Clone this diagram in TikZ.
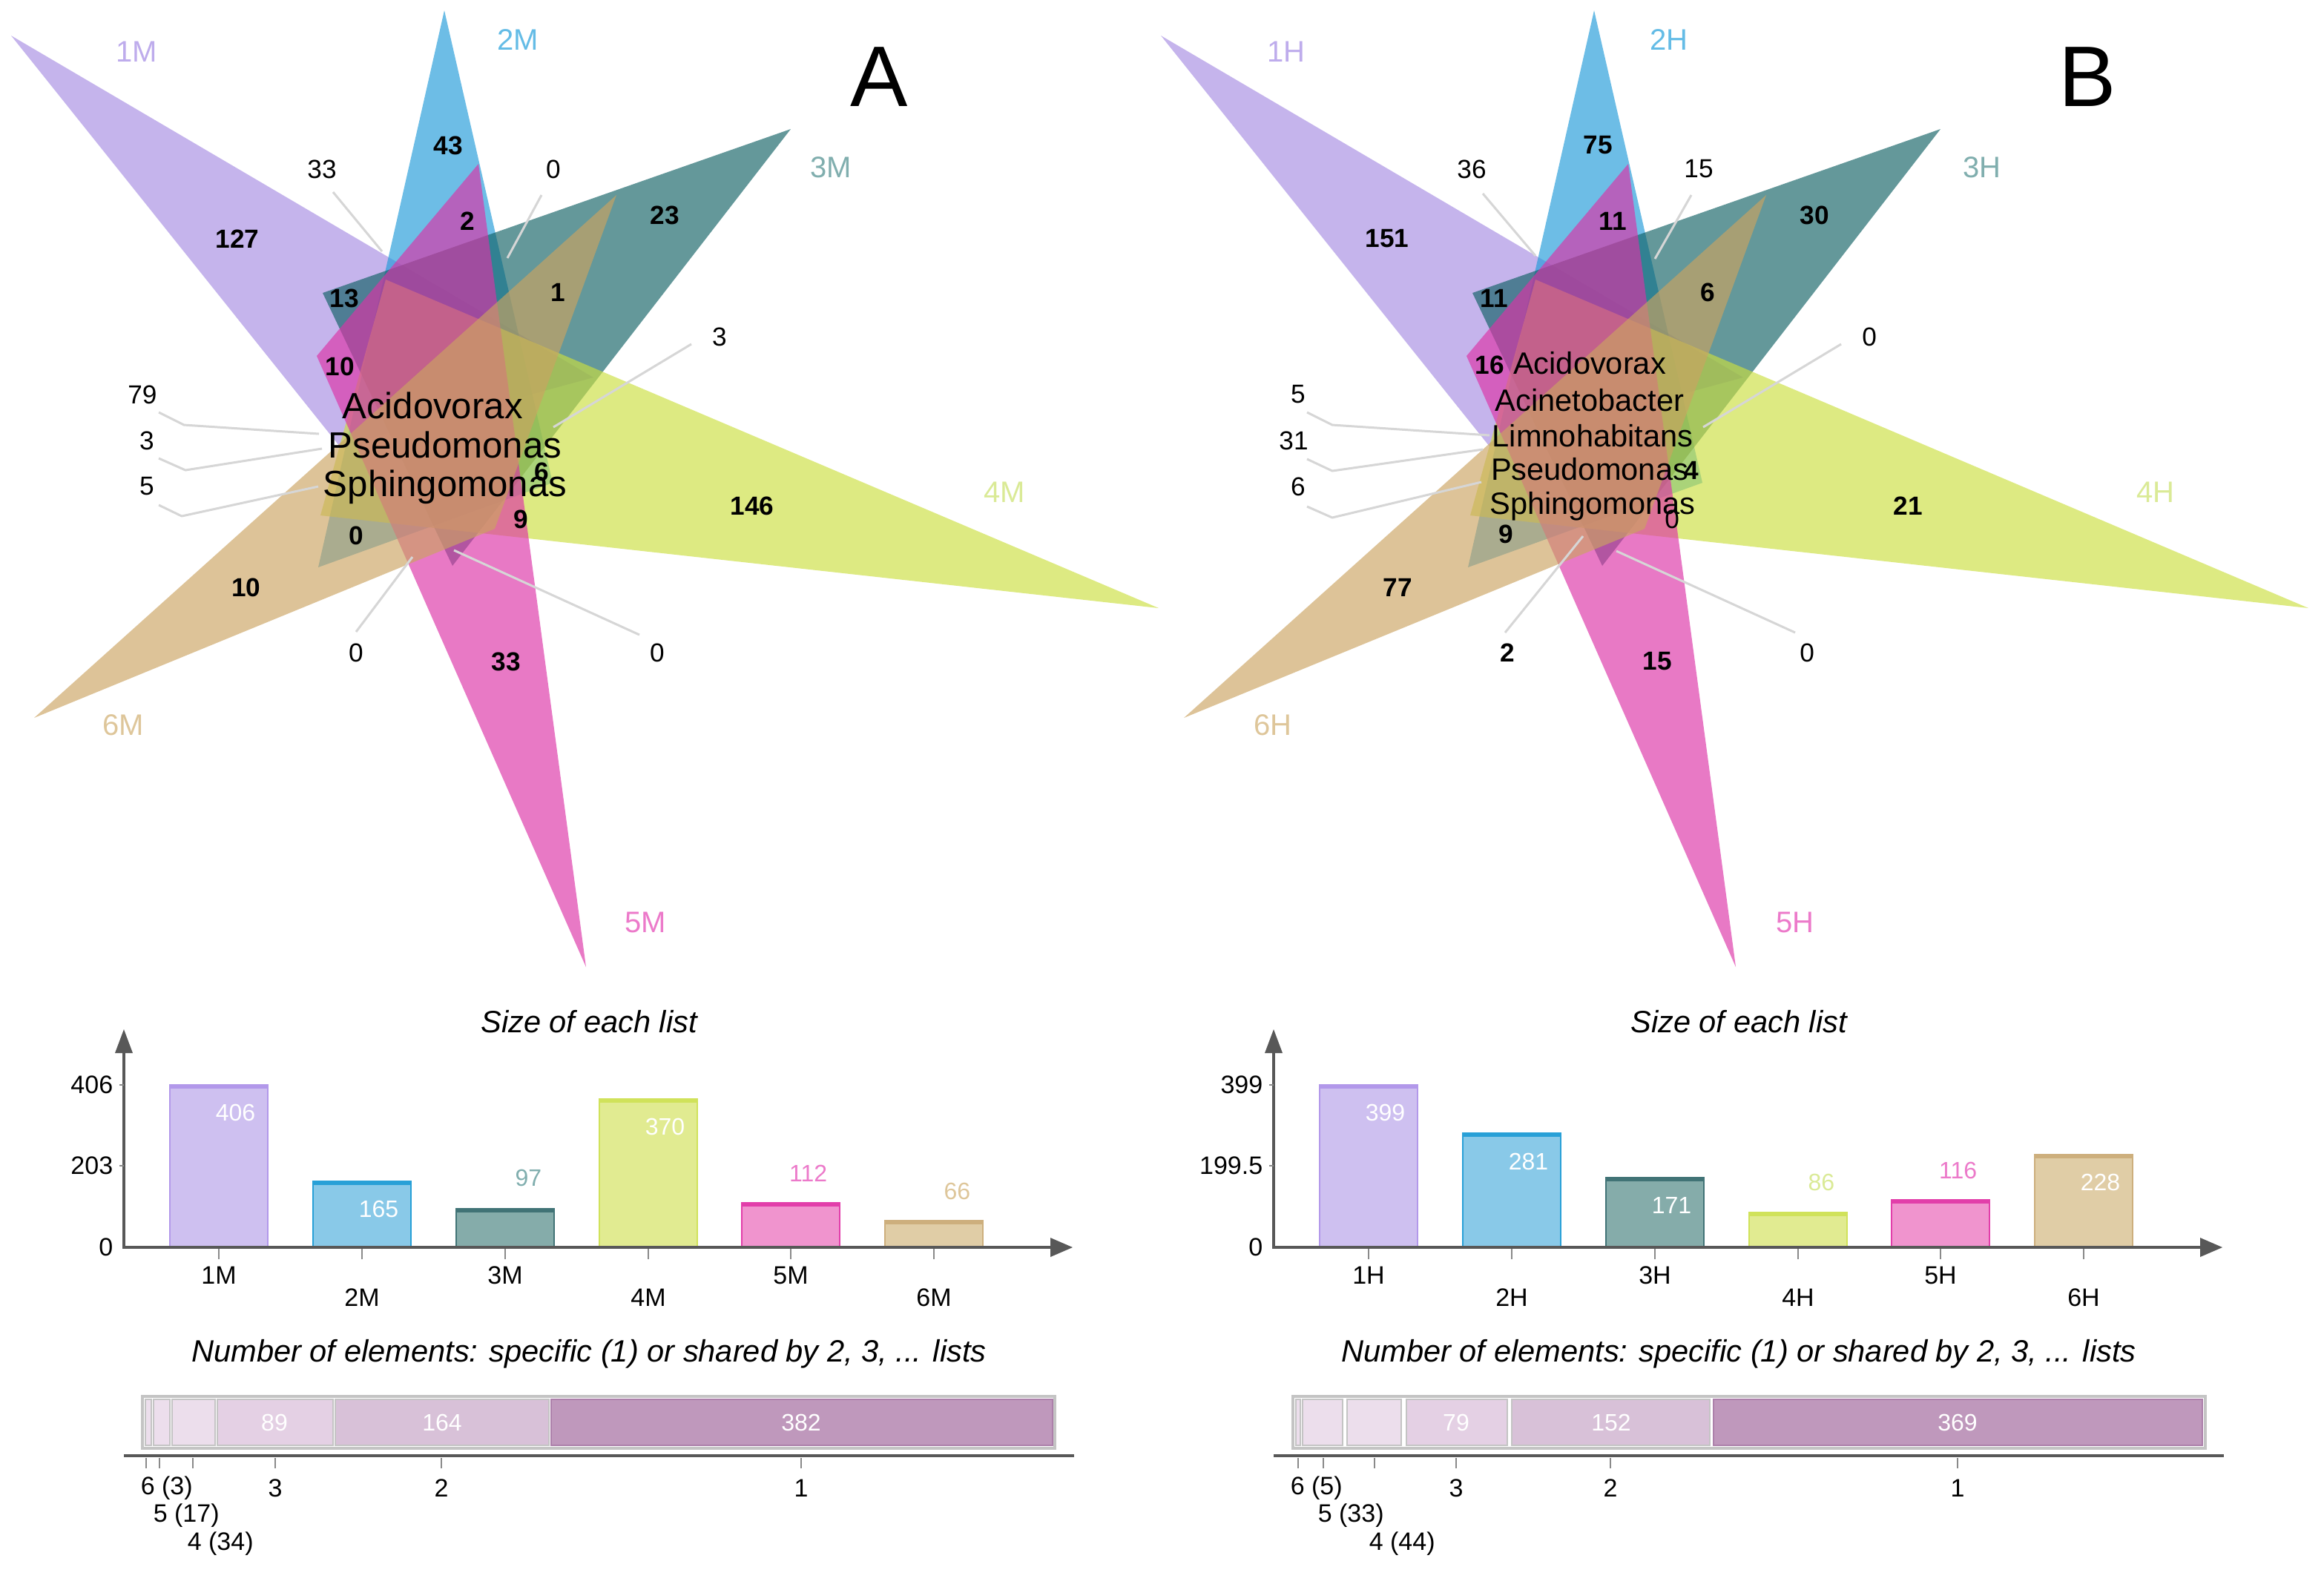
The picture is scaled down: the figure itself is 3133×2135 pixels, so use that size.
\documentclass[tikz,border=0pt]{standalone}
\usepackage{fontspec}
\setmainfont{Liberation Sans}
\definecolor{vA}{RGB}{166,140,226}
\definecolor{vB}{RGB}{32,155,217}
\definecolor{vC}{RGB}{17,97,101}
\definecolor{vD}{RGB}{204,223,63}
\definecolor{vE}{RGB}{221,50,166}
\definecolor{vF}{RGB}{203,164,97}
\definecolor{lA}{RGB}{190,172,236}
\definecolor{lB}{RGB}{100,188,230}
\definecolor{lC}{RGB}{128,174,174}
\definecolor{lD}{RGB}{218,234,150}
\definecolor{lE}{RGB}{236,122,202}
\definecolor{lF}{RGB}{222,198,154}
\definecolor{bfA}{RGB}{206,192,240}
\definecolor{bdA}{RGB}{178,152,234}
\definecolor{bfB}{RGB}{137,201,232}
\definecolor{bdB}{RGB}{40,160,215}
\definecolor{bfC}{RGB}{133,172,170}
\definecolor{bdC}{RGB}{65,115,118}
\definecolor{bfD}{RGB}{225,235,145}
\definecolor{bdD}{RGB}{208,226,90}
\definecolor{bfE}{RGB}{240,148,206}
\definecolor{bdE}{RGB}{226,62,170}
\definecolor{bfF}{RGB}{224,205,166}
\definecolor{bdF}{RGB}{205,175,125}
\definecolor{leadc}{RGB}{214,214,214}
\definecolor{axc}{RGB}{88,88,88}
\definecolor{sg1}{RGB}{191,152,188}
\definecolor{sd1}{RGB}{172,128,170}
\definecolor{sg2}{RGB}{216,193,216}
\definecolor{sg3}{RGB}{228,208,228}
\definecolor{sg4}{RGB}{236,222,236}
\definecolor{sgb}{RGB}{196,196,196}
\newcommand\vvnum{\fontsize{8.8}{10}\selectfont\bfseries}
\newcommand\vvreg{\fontsize{8.8}{10}\selectfont}
\newcommand\vvset{\fontsize{10}{12}\selectfont}
\newcommand\vvgenA{\fontsize{12.3}{14}\selectfont}
\newcommand\vvgenB{\fontsize{10.4}{12}\selectfont}
\newcommand\vvbig{\fontsize{29}{32}\selectfont}
\newcommand\vvtitle{\fontsize{10.4}{12}\selectfont\itshape}
\newcommand\vvtick{\fontsize{8.5}{10}\selectfont}
\newcommand\vvval{\fontsize{8}{10}\selectfont}
\tikzset{
  venntri/.style={fill opacity=0.65},
  num/.style={inner sep=0pt, font=\vvnum},
  rnum/.style={inner sep=0pt, font=\vvreg},
  setlab/.style={inner sep=0pt, font=\vvset},
  leader/.style={draw=leadc, line width=0.75pt, line join=round},
  axis/.style={draw=axc, line width=1pt},
  tickln/.style={draw=axc!70, line width=0.4pt},
  ticklab/.style={inner sep=0pt, font=\vvtick},
  vallab/.style={inner sep=0pt, font=\vvval, anchor=east},
  ctitle/.style={inner sep=0pt, font=\vvtitle},
  seg/.style={draw=sgb, line width=0.7pt},
}
\newcommand\vvtriangles{%
  \fill[vA,venntri] (15,48) -- (800,509) -- (458,602) -- cycle;
  \fill[vB,venntri] (599,14) -- (429,765) -- (745,651) -- cycle;
  \fill[vC,venntri] (1066,174) -- (435,395) -- (610,763) -- cycle;
  \fill[vD,venntri] (1562,820) -- (520,377) -- (432,695) -- cycle;
  \fill[vE,venntri] (790,1304) -- (645,221) -- (427,480) -- cycle;
  \fill[vF,venntri] (46,968) -- (831,263) -- (667,713) -- cycle;
}
% #1 left, #2 top, #3 fill, #4 line
\newcommand\vvbar[4]{%
  \fill[#3] (#1,#2) rectangle ({#1+132},1682);
  \draw[#4, line width=0.5pt] (#1,1682) -- (#1,#2) -- ({#1+132},#2) -- ({#1+132},1682);
  \draw[#4, line width=1.2pt] (#1,{#2+3}) -- ({#1+132},{#2+3});
  \draw[tickln] ({#1+66},1684) -- ({#1+66},1698);
}
\newcommand\vvaxes{%
  \draw[axis] (167,1682) -- (167,1418);
  \fill[axc] (167,1388) -- (155,1420) -- (179,1420) -- cycle;
  \draw[axis] (165,1682) -- (1418,1682);
  \fill[axc] (1446,1682) -- (1416,1669) -- (1416,1695) -- cycle;
  \draw[tickln] (161,1463) -- (167,1463);
  \draw[tickln] (161,1572) -- (167,1572);
}
\begin{document}
\begin{tikzpicture}[x=0.25pt,y=-0.25pt]
\useasboundingbox (0,0) rectangle (3133,2135);
\fill[white] (0,0) rectangle (3133,2135);

% ================= Venn A =================
\vvtriangles
\draw[leader] (449,259) -- (515,339);
\draw[leader] (730,263) -- (684,348);
\draw[leader] (932,464) -- (746,576);
\draw[leader] (214,556) -- (248,573) -- (430,585);
\draw[leader] (214,618) -- (250,634) -- (434,605);
\draw[leader] (214,681) -- (245,696) -- (429,656);
\draw[leader] (480,852) -- (556,751);
\draw[leader] (862,856) -- (612,742);

\node[setlab, text=lA] (a1M) at (184,70) {1M};
\node[setlab, text=lB] (a2M) at (698,54) {2M};
\node[setlab, text=lC] (a3M) at (1120,226) {3M};
\node[setlab, text=lD] (a4M) at (1354,664) {4M};
\node[setlab, text=lE] (a5M) at (870,1244) {5M};
\node[setlab, text=lF] (a6M) at (166,978) {6M};
\node[inner sep=0pt, font=\vvbig] (pA) at (1185,104) {A};

\node[num] (an127) at (320,322) {127};
\node[num] (an43) at (604,196) {43};
\node[rnum] (an33) at (434,228) {33};
\node[rnum] (an0a) at (746,228) {0};
\node[num] (an2) at (630,298) {2};
\node[num] (an23) at (896,290) {23};
\node[num] (an13) at (464,402) {13};
\node[num] (an1) at (752,394) {1};
\node[rnum] (an3a) at (970,454) {3};
\node[num] (an10a) at (458,494) {10};
\node[rnum] (an79) at (192,532) {79};
\node[rnum] (an3b) at (198,594) {3};
\node[rnum] (an5) at (198,656) {5};
\node[num] (an6) at (730,636) {6};
\node[num] (an146) at (1014,682) {146};
\node[num] (an9) at (702,700) {9};
\node[num] (an0b) at (480,722) {0};
\node[num] (an10b) at (332,792) {10};
\node[rnum] (an0c) at (480,880) {0};
\node[num] (an33b) at (682,892) {33};
\node[rnum] (an0d) at (886,880) {0};
\node[inner sep=0pt, font=\vvgenA] (agen1) at (583,547) {Acidovorax};
\node[inner sep=0pt, font=\vvgenA] (agen2) at (600,600) {Pseudomonas};
\node[inner sep=0pt, font=\vvgenA] (agen3) at (600,657) {Sphingomonas};

% ================= Venn B =================
\begin{scope}[shift={(1550,0)}]
\vvtriangles
\end{scope}
\draw[leader] (1999,261) -- (2070,345);
\draw[leader] (2280,263) -- (2231,349);
\draw[leader] (2482,464) -- (2296,576);
\draw[leader] (1762,556) -- (1796,573) -- (2008,587);
\draw[leader] (1762,619) -- (1796,635) -- (1999,606);
\draw[leader] (1762,683) -- (1796,698) -- (1997,650);
\draw[leader] (2029,853) -- (2134,723);
\draw[leader] (2420,853) -- (2179,743);

\node[setlab, text=lA] (b1H) at (1734,70) {1H};
\node[setlab, text=lB] (b2H) at (2250,54) {2H};
\node[setlab, text=lC] (b3H) at (2672,226) {3H};
\node[setlab, text=lD] (b4H) at (2906,664) {4H};
\node[setlab, text=lE] (b5H) at (2420,1244) {5H};
\node[setlab, text=lF] (b6H) at (1716,978) {6H};
\node[inner sep=0pt, font=\vvbig] (pB) at (2814,104) {B};

\node[num] (bn151) at (1870,322) {151};
\node[num] (bn75) at (2154,196) {75};
\node[rnum] (bn36) at (1984,228) {36};
\node[rnum] (bn15a) at (2290,228) {15};
\node[num] (bn11a) at (2174,298) {11};
\node[num] (bn30) at (2446,290) {30};
\node[num] (bn11b) at (2014,402) {11};
\node[num] (bn6a) at (2302,394) {6};
\node[rnum] (bn0a) at (2520,454) {0};
\node[num] (bn16) at (2008,492) {16};
\node[rnum] (bn5) at (1750,532) {5};
\node[rnum] (bn31) at (1744,594) {31};
\node[rnum] (bn6b) at (1750,656) {6};
\node[num] (bn4) at (2280,634) {4};
\node[rnum] (bn0b) at (2254,700) {0};
\node[num] (bn21) at (2572,682) {21};
\node[num] (bn9) at (2030,720) {9};
\node[num] (bn77) at (1884,792) {77};
\node[num] (bn2) at (2032,880) {2};
\node[num] (bn15b) at (2234,892) {15};
\node[rnum] (bn0c) at (2436,880) {0};
\node[inner sep=0pt, font=\vvgenB] (bgen1) at (2143,490) {Acidovorax};
\node[inner sep=0pt, font=\vvgenB] (bgen2) at (2143,540) {Acinetobacter};
\node[inner sep=0pt, font=\vvgenB] (bgen3) at (2147,588) {Limnohabitans};
\node[inner sep=0pt, font=\vvgenB] (bgen4) at (2143,633) {Pseudomonas};
\node[inner sep=0pt, font=\vvgenB] (bgen5) at (2147,683) {Sphingomonas};

% ================= Bar chart A =================
\node[ctitle] (atitle1) at (794,1378) {Size of each list};
\vvbar{229}{1463}{bfA}{bdA}
\vvbar{422}{1593}{bfB}{bdB}
\vvbar{615}{1630}{bfC}{bdC}
\vvbar{808}{1482}{bfD}{bdD}
\vvbar{1000}{1622}{bfE}{bdE}
\vvbar{1193}{1646}{bfF}{bdF}
\vvaxes
\node[ticklab, anchor=east] (ay1) at (153,1463) {406};
\node[ticklab, anchor=east] (ay2) at (153,1572) {203};
\node[ticklab, anchor=east] (ay3) at (153,1682) {0};
\node[vallab, text=white] (av1) at (345,1500) {406};
\node[vallab, text=white] (av2) at (538,1630) {165};
\node[vallab, text=lC] (av3) at (731,1588) {97};
\node[vallab, text=white] (av4) at (924,1519) {370};
\node[vallab, text=lE] (av5) at (1116,1582) {112};
\node[vallab, text=lF] (av6) at (1309,1606) {66};
\node[ticklab] (ax1) at (295,1720) {1M};
\node[ticklab] (ax2) at (488,1750) {2M};
\node[ticklab] (ax3) at (681,1720) {3M};
\node[ticklab] (ax4) at (874,1750) {4M};
\node[ticklab] (ax5) at (1066,1720) {5M};
\node[ticklab] (ax6) at (1259,1750) {6M};

% stacked A
\node[ctitle] (atitle2) at (794,1826) {Number of elements: specific (1) or shared by 2, 3, ... lists};
\draw[sgb, line width=1pt] (192,1883) rectangle (1422,1953);
\filldraw[seg, fill=sg4] (196,1887) rectangle (204,1949);
\filldraw[seg, fill=sg4] (207,1887) rectangle (229,1949);
\filldraw[seg, fill=sg4] (232,1887) rectangle (290,1949);
\filldraw[seg, fill=sg3] (293,1887) rectangle (449,1949);
\filldraw[seg, fill=sg2] (452,1887) rectangle (740,1949);
\filldraw[seg, fill=sg1, draw=sd1] (743,1887) rectangle (1419,1949);
\node[vallab, anchor=center, text=white] (as3) at (370,1918) {89};
\node[vallab, anchor=center, text=white] (as2) at (596,1918) {164};
\node[vallab, anchor=center, text=white] (as1) at (1080,1918) {382};
\draw[axis] (167,1963) -- (1448,1963);
\foreach \tx in {197,215,260,371,595,1080} \draw[tickln] (\tx,1966) -- (\tx,1980);
\node[ticklab, anchor=west] (ak6) at (189,2007) {6 (3)};
\node[ticklab, anchor=west] (ak5) at (206,2044) {5 (17)};
\node[ticklab, anchor=west] (ak4) at (252,2082) {4 (34)};
\node[ticklab] (ak3) at (371,2007) {3};
\node[ticklab] (ak2) at (595,2007) {2};
\node[ticklab] (ak1) at (1080,2007) {1};

% ================= Bar chart B =================
\node[ctitle] (btitle1) at (2344,1378) {Size of each list};
\begin{scope}[shift={(1550,0)}]
\vvbar{229}{1463}{bfA}{bdA}
\vvbar{422}{1528}{bfB}{bdB}
\vvbar{615}{1588}{bfC}{bdC}
\vvbar{808}{1635}{bfD}{bdD}
\vvbar{1000}{1618}{bfE}{bdE}
\vvbar{1193}{1557}{bfF}{bdF}
\vvaxes
\end{scope}
\node[ticklab, anchor=east] (by1) at (1703,1463) {399};
\node[ticklab, anchor=east] (by2) at (1703,1572) {199.5};
\node[ticklab, anchor=east] (by3) at (1703,1682) {0};
\node[vallab, text=white] (bv1) at (1895,1500) {399};
\node[vallab, text=white] (bv2) at (2088,1566) {281};
\node[vallab, text=white] (bv3) at (2281,1625) {171};
\node[vallab, text=lD] (bv4) at (2474,1594) {86};
\node[vallab, text=lE] (bv5) at (2666,1578) {116};
\node[vallab, text=white] (bv6) at (2859,1594) {228};
\node[ticklab] (bx1) at (1845,1720) {1H};
\node[ticklab] (bx2) at (2038,1750) {2H};
\node[ticklab] (bx3) at (2231,1720) {3H};
\node[ticklab] (bx4) at (2424,1750) {4H};
\node[ticklab] (bx5) at (2616,1720) {5H};
\node[ticklab] (bx6) at (2809,1750) {6H};

% stacked B
\node[ctitle] (btitle2) at (2344,1826) {Number of elements: specific (1) or shared by 2, 3, ... lists};
\draw[sgb, line width=1pt] (1743,1883) rectangle (2973,1953);
\filldraw[seg, fill=sg4] (1747,1887) rectangle (1753,1949);
\filldraw[seg, fill=sg4] (1756,1887) rectangle (1810,1949);
\filldraw[seg, fill=sg4] (1816,1887) rectangle (1889,1949);
\filldraw[seg, fill=sg3] (1896,1887) rectangle (2032,1949);
\filldraw[seg, fill=sg2] (2038,1887) rectangle (2305,1949);
\filldraw[seg, fill=sg1, draw=sd1] (2310,1887) rectangle (2969,1949);
\node[vallab, anchor=center, text=white] (bs3) at (1963,1918) {79};
\node[vallab, anchor=center, text=white] (bs2) at (2172,1918) {152};
\node[vallab, anchor=center, text=white] (bs1) at (2639,1918) {369};
\draw[axis] (1717,1963) -- (2998,1963);
\foreach \tx in {1750,1784,1853,1963,2171,2639} \draw[tickln] (\tx,1966) -- (\tx,1980);
\node[ticklab, anchor=west] (bk6) at (1739,2007) {6 (5)};
\node[ticklab, anchor=west] (bk5) at (1776,2044) {5 (33)};
\node[ticklab, anchor=west] (bk4) at (1845,2082) {4 (44)};
\node[ticklab] (bk3) at (1963,2007) {3};
\node[ticklab] (bk2) at (2171,2007) {2};
\node[ticklab] (bk1) at (2639,2007) {1};
\end{tikzpicture}
\end{document}
